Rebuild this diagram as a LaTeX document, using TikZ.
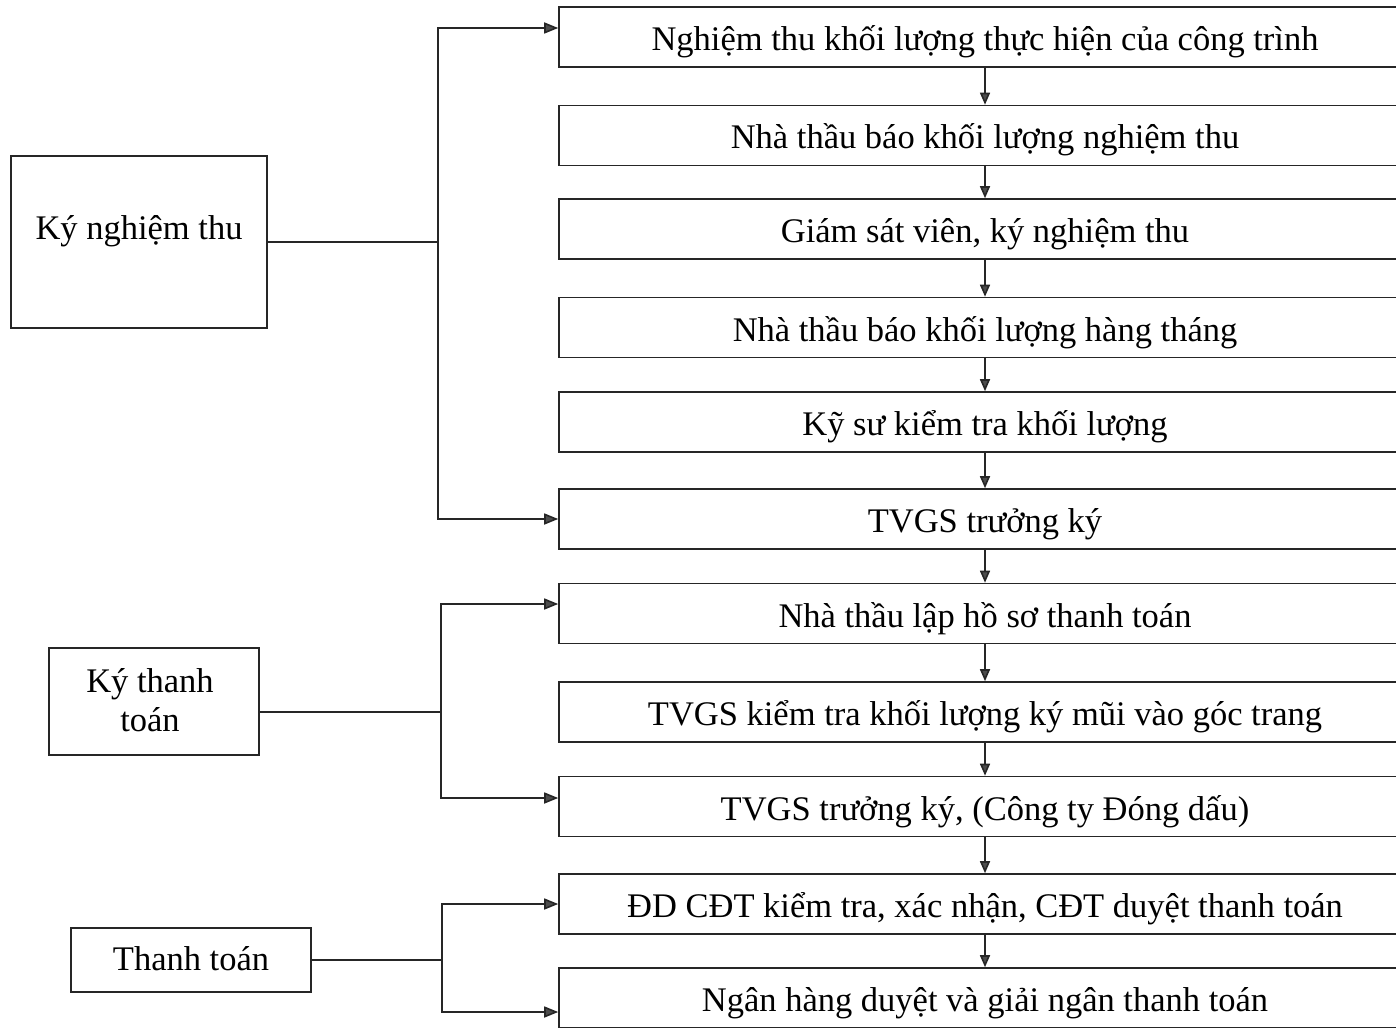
\documentclass[tikz,border=0pt]{standalone}
\usepackage{fontspec}
\setmainfont{Liberation Serif}
\usetikzlibrary{arrows.meta,calc}

\begin{document}
\begin{tikzpicture}[x=1pt,y=-1pt,
  ink/.style={draw=black!85, line width=1.6pt},
  stepbox/.style={ink, minimum width=852pt, minimum height=60pt, inner sep=0pt,
    text height=30pt, text depth=3pt, font=\fontsize{34.5}{40}\selectfont},
  phasebox/.style={ink, inner sep=0pt},
  phasetext/.style={anchor=base, inner sep=0pt, align=center,
    font=\fontsize{34.5}{39}\selectfont},
  link/.style={draw=black!85, line width=1.6pt},
  arr/.style={link, -{Triangle[length=14pt,width=11pt,fill=black!70]}},
  down/.style={link, -{Triangle[length=12pt,width=10pt,fill=black!70]}}]
\useasboundingbox (0,0) rectangle (1396,1027);
\clip (0,0) rectangle (1396,1027);

% process steps, right column
\node[stepbox] (b1)  at (985,37)    {Nghiệm thu khối lượng thực hiện của công trình};
\node[stepbox] (b2)  at (985,135.5) {Nhà thầu báo khối lượng nghiệm thu};
\node[stepbox] (b3)  at (985,229)   {Giám sát viên, ký nghiệm thu};
\node[stepbox] (b4)  at (985,327.5) {Nhà thầu báo khối lượng hàng tháng};
\node[stepbox] (b5)  at (985,422)   {Kỹ sư kiểm tra khối lượng};
\node[stepbox] (b6)  at (985,519)   {TVGS trưởng ký};
\node[stepbox] (b7)  at (985,613.5) {Nhà thầu lập hồ sơ thanh toán};
\node[stepbox] (b8)  at (985,712)   {TVGS kiểm tra khối lượng ký mũi vào góc trang};
\node[stepbox] (b9)  at (985,806.5) {TVGS trưởng ký, (Công ty Đóng dấu)};
\node[stepbox] (b10) at (985,904)   {ĐD CĐT kiểm tra, xác nhận, CĐT duyệt thanh toán};
\node[stepbox] (b11) at (985,998)   {Ngân hàng duyệt và giải ngân thanh toán};

\foreach \a/\b in {b1/b2,b2/b3,b3/b4,b4/b5,b5/b6,b6/b7,b7/b8,b8/b9,b9/b10,b10/b11}
  \draw[down] (\a.south) -- (\b.north);

% phases, left column: frame and caption
\node[phasebox, minimum width=256pt, minimum height=172pt] (kn) at (139,242)   {};
\node[phasetext] (kn-t) at (139,239) {Ký nghiệm thu};
\node[phasebox, minimum width=210pt, minimum height=107pt] (kt) at (154,701.5) {};
\node[phasetext] (kt-t) at (150,731) {Ký thanh\\toán};
\node[phasebox, minimum width=240pt, minimum height=64pt]  (tt) at (191,960)   {};
\node[phasetext] (tt-t) at (191,970) {Thanh toán};

% brackets from each phase to its steps
\draw[link] (kn.east) -- ++(170,0) coordinate (j1);
\draw[arr] (j1) |- ([yshift=9pt]b1.west);
\draw[arr] (j1) |- (b6.west);

\draw[link] ([yshift=-10.5pt]kt.east) -- ++(181,0) coordinate (j2);
\draw[arr] (j2) |- ([yshift=9.5pt]b7.west);
\draw[arr] (j2) |- ([yshift=8.5pt]b9.west);

\draw[link] (tt.east) -- ++(130,0) coordinate (j3);
\draw[arr] (j3) |- (b10.west);
\draw[arr] (j3) |- ([yshift=-14pt]b11.west);
\end{tikzpicture}
\end{document}
